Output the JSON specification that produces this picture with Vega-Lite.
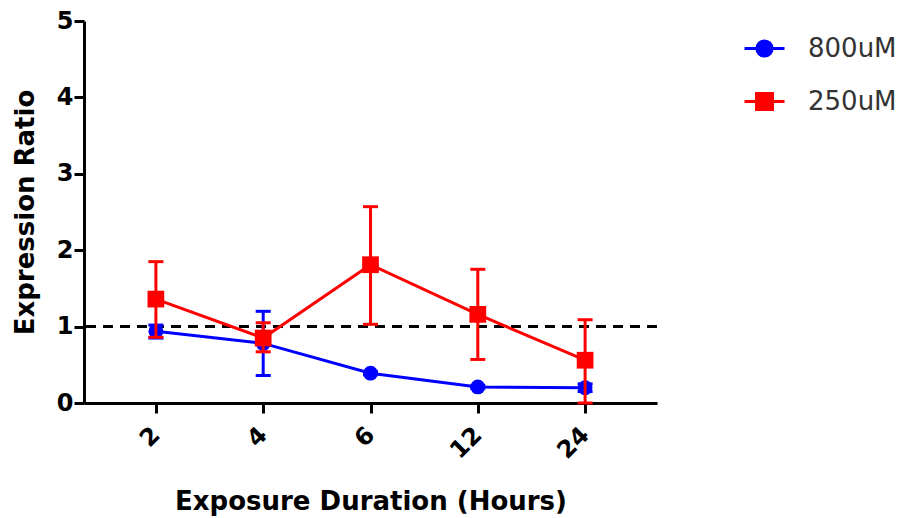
{
  "$schema": "https://vega.github.io/schema/vega-lite/v6.json",
  "width": 573,
  "height": 382,
  "autosize": "none",
  "padding": {"left": 84, "top": 21, "right": 244, "bottom": 115},
  "background": "white",
  "config": {
    "view": {"stroke": null},
    "font": "DejaVu Sans",
    "tick": {"opacity": 1},
    "axis": {
      "domainColor": "black", "domainWidth": 3,
      "tickColor": "black", "tickWidth": 3, "tickSize": 10,
      "labelFont": "DejaVu Sans", "labelFontWeight": "bold", "labelFontSize": 24, "labelColor": "black",
      "titleFont": "DejaVu Sans", "titleFontWeight": "bold", "titleFontSize": 26, "titleColor": "black",
      "grid": false
    }
  },
  "data": {
    "values": [
      {"time": "2", "conc": "800uM", "mean": 0.94, "lo": 0.85, "hi": 1.02},
      {"time": "4", "conc": "800uM", "mean": 0.78, "lo": 0.36, "hi": 1.20},
      {"time": "6", "conc": "800uM", "mean": 0.39, "lo": 0.37, "hi": 0.41},
      {"time": "12", "conc": "800uM", "mean": 0.21, "lo": 0.19, "hi": 0.23},
      {"time": "24", "conc": "800uM", "mean": 0.20, "lo": 0.15, "hi": 0.25},
      {"time": "2", "conc": "250uM", "mean": 1.36, "lo": 0.86, "hi": 1.85},
      {"time": "4", "conc": "250uM", "mean": 0.85, "lo": 0.67, "hi": 1.05},
      {"time": "6", "conc": "250uM", "mean": 1.81, "lo": 1.03, "hi": 2.57},
      {"time": "12", "conc": "250uM", "mean": 1.16, "lo": 0.57, "hi": 1.75},
      {"time": "24", "conc": "250uM", "mean": 0.56, "lo": 0.0, "hi": 1.09}
    ]
  },
  "layer": [
    {
      "data": {"values": [{"ref": 1}]},
      "mark": {"type": "rule", "strokeDash": [10, 7], "strokeWidth": 3, "color": "black"},
      "encoding": {
        "y": {
          "field": "ref", "type": "quantitative",
          "scale": {"domain": [0, 5], "nice": false},
          "axis": {
            "title": "Expression Ratio", "values": [0, 1, 2, 3, 4, 5], "format": "d",
            "labelPadding": 1, "labelFlush": false,
            "titleX": -51, "titleBaseline": "alphabetic", "titleAngle": -90
          }
        }
      }
    },
    {
      "encoding": {
        "x": {
          "field": "time", "type": "ordinal", "sort": ["2", "4", "6", "12", "24"],
          "scale": {"type": "point", "padding": 0.67},
          "axis": {
            "title": "Exposure Duration (Hours)",
            "labelAngle": -45, "labelAlign": "right", "labelBaseline": "middle", "labelPadding": 18,
            "titleY": 106, "titleBaseline": "alphabetic"
          }
        },
        "color": {
          "field": "conc", "type": "nominal",
          "scale": {"domain": ["800uM", "250uM"], "range": ["#0000ff", "#ff0000"]},
          "legend": {
            "title": null, "orient": "none", "legendX": 659, "legendY": 6, "padding": 0,
            "labelFont": "DejaVu Sans", "labelFontSize": 26, "labelColor": "#333333",
            "rowPadding": 17, "labelOffset": 22, "symbolSize": 1600, "symbolStrokeWidth": 3,
            "encode": {
              "symbols": {
                "update": {
                  "shape": {"signal": "datum.value === '800uM' ? 'M-1,0H1M-0.38,0A0.38,0.38 0 1 1 0.38,0A0.38,0.38 0 1 1 -0.38,0Z' : 'M-1,0H1M-0.4,-0.4H0.4V0.4H-0.4Z'"},
                  "fill": {"scale": "color", "field": "value"},
                  "stroke": {"scale": "color", "field": "value"},
                  "strokeWidth": {"value": 3},
                  "opacity": {"value": 1},
                  "fillOpacity": {"value": 1},
                  "strokeOpacity": {"value": 1}
                }
              }
            }
          }
        }
      },
      "layer": [
        {
          "transform": [{"filter": "datum.conc === '800uM'"}],
          "layer": [
            {"mark": {"type": "rule", "strokeWidth": 3},
             "encoding": {"y": {"field": "lo", "type": "quantitative"}, "y2": {"field": "hi"}}},
            {"mark": {"type": "tick", "thickness": 3, "size": 15},
             "encoding": {"y": {"field": "lo", "type": "quantitative"}}},
            {"mark": {"type": "tick", "thickness": 3, "size": 15},
             "encoding": {"y": {"field": "hi", "type": "quantitative"}}},
            {"mark": {"type": "line", "strokeWidth": 3},
             "encoding": {"y": {"field": "mean", "type": "quantitative"}}},
            {"mark": {"type": "point", "filled": true, "opacity": 1, "size": 220, "shape": "circle"},
             "encoding": {"y": {"field": "mean", "type": "quantitative"}}}
          ]
        },
        {
          "transform": [{"filter": "datum.conc === '250uM'"}],
          "layer": [
            {"mark": {"type": "rule", "strokeWidth": 3},
             "encoding": {"y": {"field": "lo", "type": "quantitative"}, "y2": {"field": "hi"}}},
            {"mark": {"type": "tick", "thickness": 3, "size": 15},
             "encoding": {"y": {"field": "lo", "type": "quantitative"}}},
            {"mark": {"type": "tick", "thickness": 3, "size": 15},
             "encoding": {"y": {"field": "hi", "type": "quantitative"}}},
            {"mark": {"type": "line", "strokeWidth": 3},
             "encoding": {"y": {"field": "mean", "type": "quantitative"}}},
            {"mark": {"type": "point", "filled": true, "opacity": 1, "size": 280, "shape": "square"},
             "encoding": {"y": {"field": "mean", "type": "quantitative"}}}
          ]
        }
      ]
    }
  ],
  "resolve": {"scale": {"y": "shared"}}
}
